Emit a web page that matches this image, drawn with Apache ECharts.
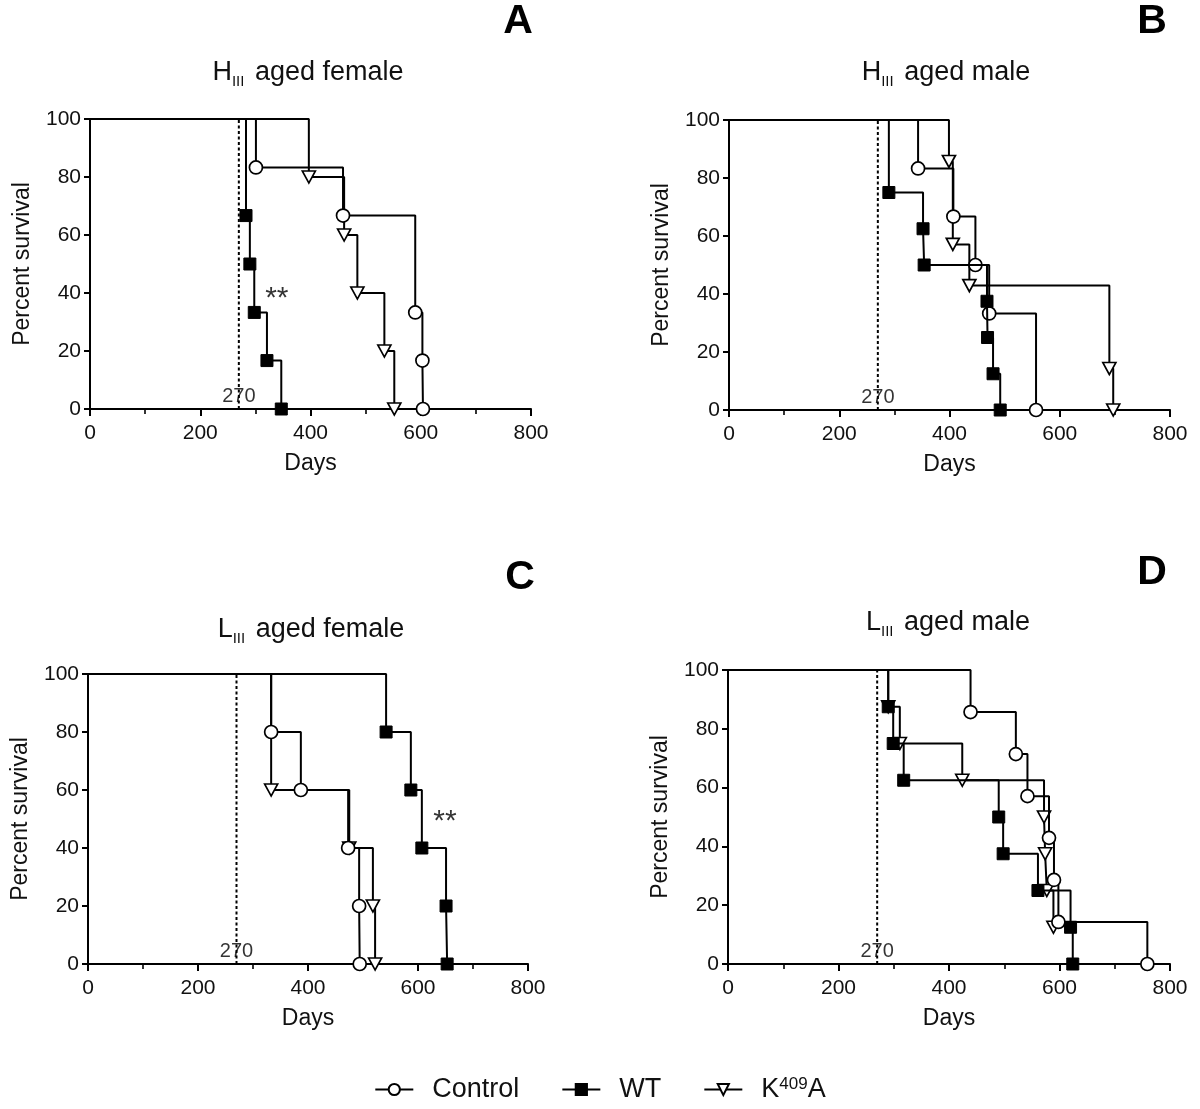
<!DOCTYPE html>
<html><head><meta charset="utf-8">
<script src="https://cdn.jsdelivr.net/npm/echarts@6/dist/echarts.min.js"></script>
<style>html,body{margin:0;padding:0;background:#fff}#c{width:1200px;height:1109px}</style>
</head><body><div id="c"></div>
<script>
// ---- data ----
const xTicks = [0, 200, 400, 600, 800];
const yTicks = [0, 20, 40, 60, 80, 100];
const cutoffDay = 270;
const groupNames = ['Control', 'WT', 'K409A'];
const panelLetters = ['A', 'B', 'C', 'D'];
const panelPrefix = ['H', 'H', 'L', 'L'];
const panelSuffix = [' aged female', ' aged male', ' aged female', ' aged male'];
// Panel A: H_III aged female  [day, percent survival]
const aControl = [[0,100],[301,83.3],[459,66.7],[590,33.3],[603,16.7],[604,0]];
const aWT      = [[0,100],[283,66.7],[290,50],[298,33.3],[321,16.7],[347,0]];
const aK409A   = [[0,100],[397,80],[461,60],[485,40],[534,20],[552,0]];
// Panel B: H_III aged male
const bControl = [[0,100],[343,83.3],[407,66.7],[447,50],[472,33.3],[557,0]];
const bWT      = [[0,100],[290,75],[352,62.5],[354,50],[468,37.5],[469,25],[479,12.5],[492,0]];
const bK409A   = [[0,100],[399,85.7],[406,57.1],[436,42.9],[690,14.3],[697,0]];
// Panel C: L_III aged female
const cControl = [[0,100],[333,80],[387,60],[473,40],[493,20],[494,0]];
const cWT      = [[0,100],[542,80],[587,60],[607,40],[651,20],[653,0]];
const cK409A   = [[0,100],[333,60],[475,40],[518,20],[522,0]];
// Panel D: L_III aged male
const dControl = [[0,100],[439,85.7],[521,71.4],[542,57.1],[581,42.9],[590,28.6],[598,14.3],[759,0]];
const dWT      = [[0,100],[290,87.5],[299,75],[318,62.5],[490,50],[498,37.5],[561,25],[620,12.5],[624,0]];
const dK409A   = [[0,100],[290,87.5],[311,75],[424,62.5],[572,50],[574,37.5],[577,25],[589,12.5]];
// significance markers [day, percent]
const aStars = [[339, 38]];
const cStars = [[649, 49]];

const panels = [
  {c: aControl, w: aWT, k: aK409A, stars: aStars},
  {c: bControl, w: bWT, k: bK409A, stars: []},
  {c: cControl, w: cWT, k: cK409A, stars: cStars},
  {c: dControl, w: dWT, k: dK409A, stars: []}
];

// ---- layout ----
const FONT = '"Liberation Sans", Arial, sans-serif';
const gridBoxes = [
  {left: 90, top: 119, width: 441, height: 290},
  {left: 729, top: 120, width: 441, height: 290},
  {left: 88, top: 674, width: 440, height: 290},
  {left: 728, top: 670, width: 442, height: 294}
];
const titlePos = [[308, 73], [946, 73], [311, 630], [948, 623]];
const letterPos = [[518, 22], [1152, 22], [520, 578], [1152, 573]];

const styles = {
  Control: {symbol: 'circle', symbolSize: 13, symbolRotate: 0, itemStyle: {color: '#fff', borderColor: '#000', borderWidth: 1.7}},
  WT: {symbol: 'rect', symbolSize: 12, symbolRotate: 0, itemStyle: {color: '#000', borderColor: '#000', borderWidth: 1}},
  K409A: {symbol: 'triangle', symbolSize: [13, 12], symbolRotate: 180, itemStyle: {color: '#fff', borderColor: '#000', borderWidth: 1.7}}
};

function km(name, data, gi, z) {
  const s = styles[name];
  return {
    type: 'line', name: name, xAxisIndex: gi, yAxisIndex: gi, step: 'end',
    data: data.map((p, i) => i === 0 ? {value: p, symbol: 'none'} : p),
    symbol: s.symbol, symbolSize: s.symbolSize, symbolRotate: s.symbolRotate,
    showAllSymbol: true,
    itemStyle: s.itemStyle,
    lineStyle: {color: '#000', width: 2},
    z: z, animation: false, silent: true
  };
}

const grid = [], xAxis = [], yAxis = [], series = [], graphic = [];
panels.forEach((p, gi) => {
  grid.push(Object.assign({containLabel: false}, gridBoxes[gi]));
  xAxis.push({
    gridIndex: gi, type: 'value', min: xTicks[0], max: xTicks[xTicks.length - 1], interval: xTicks[1] - xTicks[0],
    axisLine: {show: true, onZero: false, lineStyle: {color: '#000', width: 2}},
    axisTick: {show: true, length: 7, lineStyle: {color: '#000', width: 2}},
    minorTick: {show: true, splitNumber: 2, length: 5, lineStyle: {color: '#000', width: 1.6}},
    splitLine: {show: false},
    axisLabel: {fontSize: 21, color: '#111', margin: 14, fontFamily: FONT},
    name: 'Days', nameLocation: 'middle', nameGap: 43,
    nameTextStyle: {fontSize: 23, color: '#111', fontFamily: FONT}
  });
  yAxis.push({
    gridIndex: gi, type: 'value', min: yTicks[0], max: yTicks[yTicks.length - 1], interval: yTicks[1] - yTicks[0],
    axisLine: {show: true, onZero: false, lineStyle: {color: '#000', width: 2}},
    axisTick: {show: true, length: 6, lineStyle: {color: '#000', width: 2}},
    splitLine: {show: false},
    axisLabel: {fontSize: 21, color: '#111', margin: 9, fontFamily: FONT},
    name: 'Percent survival', nameLocation: 'middle', nameGap: 56,
    nameTextStyle: {fontSize: 23, color: '#111', fontFamily: FONT}
  });
  // cutoff line
  series.push({
    type: 'line', name: 'cutoff', xAxisIndex: gi, yAxisIndex: gi,
    data: [[cutoffDay, yTicks[0]], [cutoffDay, yTicks[yTicks.length - 1]]],
    symbol: 'none', lineStyle: {color: '#000', width: 2, type: [3, 2.5]},
    z: 1, animation: false, silent: true
  });
  series.push({
    type: 'scatter', name: 'cutoffLabel', xAxisIndex: gi, yAxisIndex: gi,
    data: [[cutoffDay, yTicks[0]]], symbolSize: 0,
    label: {show: true, position: 'top', distance: 3, formatter: String(cutoffDay), fontSize: 20, color: '#000', fontFamily: FONT},
    z: 1, animation: false, silent: true
  });
  series.push(km('K409A', p.k, gi, 2));
  series.push(km('Control', p.c, gi, 3));
  series.push(km('WT', p.w, gi, 4));
  if (p.stars.length) {
    series.push({
      type: 'scatter', name: 'sig', xAxisIndex: gi, yAxisIndex: gi,
      data: p.stars, symbolSize: 0,
      label: {show: true, position: 'inside', formatter: '**', fontSize: 30, color: '#000', fontFamily: FONT},
      animation: false, silent: true
    });
  }
  graphic.push({
    type: 'text', x: titlePos[gi][0], y: titlePos[gi][1],
    style: {
      text: '{m|' + panelPrefix[gi] + '}{s|III}{m|' + panelSuffix[gi] + '}',
      align: 'center', verticalAlign: 'middle', fill: '#111',
      rich: {
        m: {fontSize: 27, fontFamily: FONT, fill: '#111', lineHeight: 32},
        s: {fontSize: 15, fontFamily: FONT, fill: '#111', verticalAlign: 'bottom', lineHeight: 18, padding: [16, 3, 0, 0]}
      }
    }
  });
  graphic.push({
    type: 'text', x: letterPos[gi][0], y: letterPos[gi][1],
    style: {text: panelLetters[gi], align: 'center', verticalAlign: 'middle', fill: '#000',
      font: 'bold 41px ' + FONT}
  });
});

const chart = echarts.init(document.getElementById('c'), null, {renderer: 'canvas'});
chart.setOption({
  backgroundColor: '#fff',
  animation: false,
  grid: grid, xAxis: xAxis, yAxis: yAxis, series: series, graphic: graphic,
  legend: {
    data: groupNames, left: 'center', top: 1071, itemWidth: 38, itemHeight: 14, itemGap: 42,
    selectedMode: false,
    textStyle: {fontSize: 27, color: '#111', fontFamily: FONT, padding: [0, 0, 0, 14],
      rich: {n: {fontSize: 27, fontFamily: FONT, color: '#111'}, sup: {fontSize: 17, fontFamily: FONT, color: '#111', verticalAlign: 'top', padding: [0, 0, 10, 0]}}},
    formatter: function (name) { return name === 'K409A' ? '{n|K}{sup|409}{n|A}' : name; }
  }
});
</script>
</body></html>
